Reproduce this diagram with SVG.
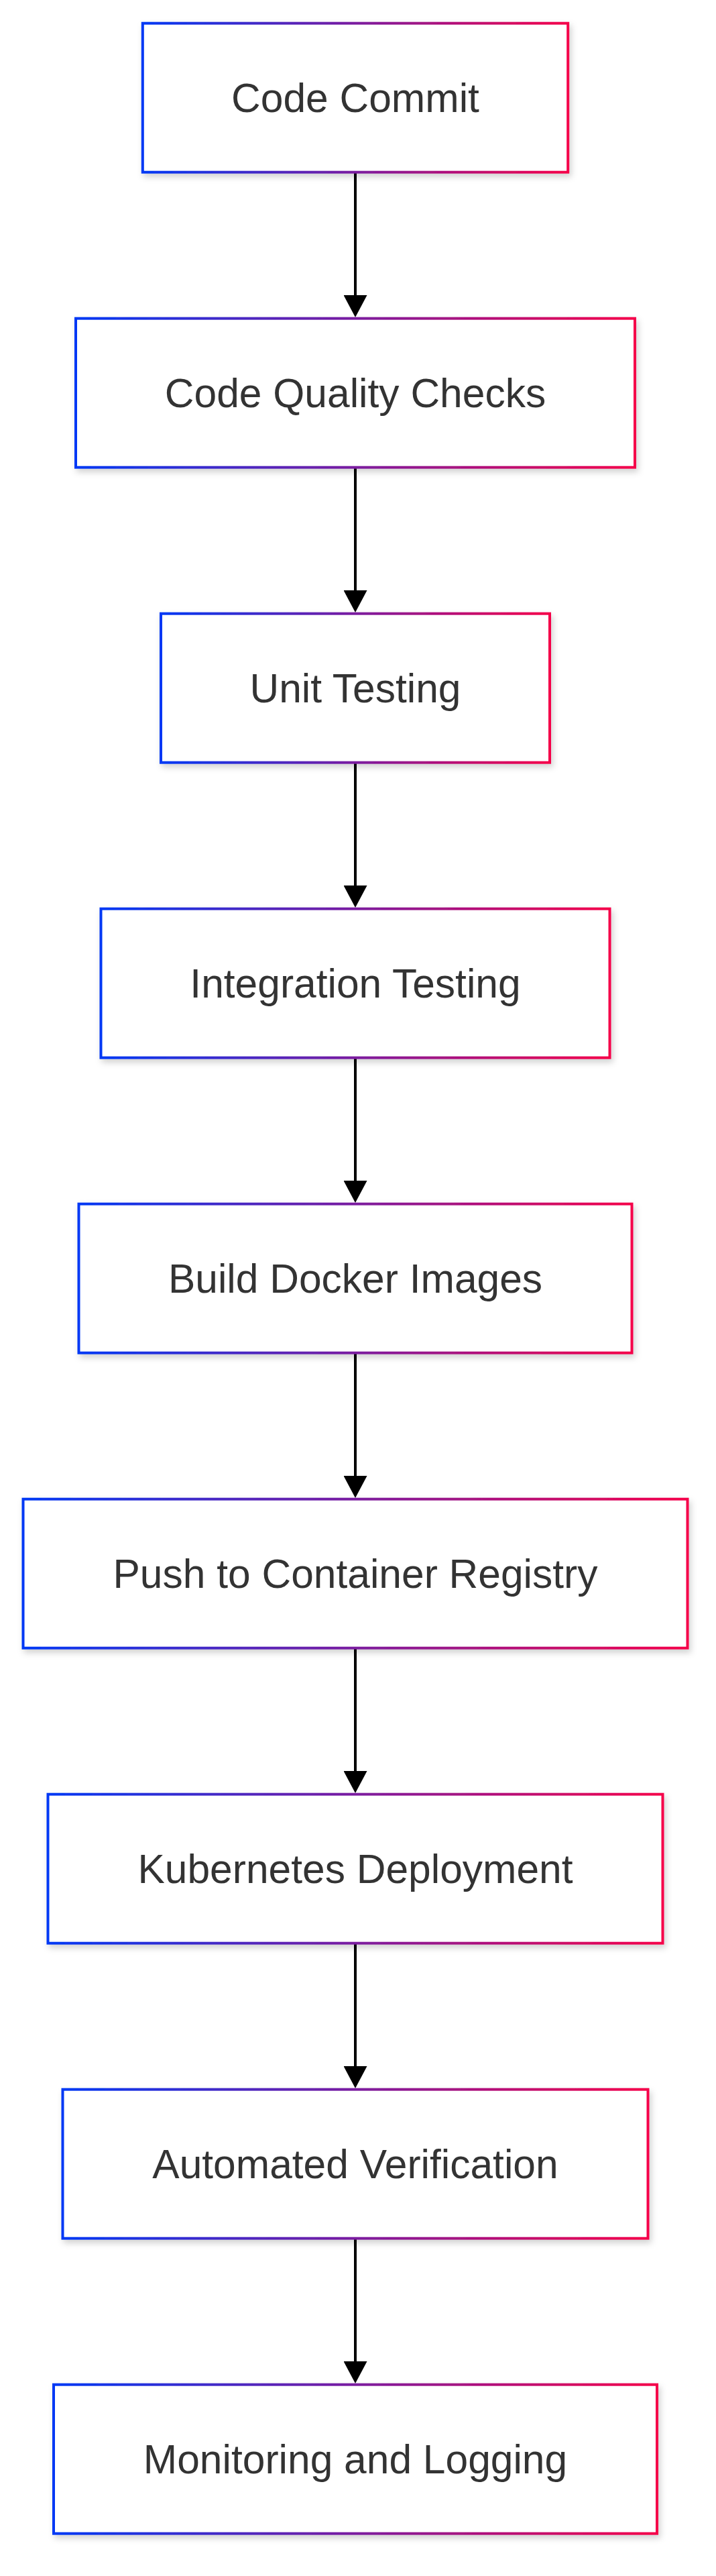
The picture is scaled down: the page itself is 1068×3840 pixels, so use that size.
<svg xmlns="http://www.w3.org/2000/svg" width="1068" height="3840" viewBox="0 0 1068 3840">
<defs>
  <linearGradient id="edgeGrad" x1="0" y1="0" x2="1" y2="0">
    <stop offset="0" stop-color="#0038f5"/>
    <stop offset="1" stop-color="#f5004a"/>
  </linearGradient>
  <filter id="shadow" x="-10%" y="-20%" width="120%" height="150%">
    <feDropShadow dx="3" dy="5" stdDeviation="5" flood-color="#000000" flood-opacity="0.18"/>
  </filter>
  <marker id="arrow" markerUnits="userSpaceOnUse" markerWidth="35" markerHeight="35" viewBox="0 0 33 35" refX="5" refY="17.5" orient="auto">
    <path d="M0,0 L33,17.5 L0,35 Z" fill="#000000"/>
  </marker>
</defs>
<style>
  .box { fill: #ffffff; stroke: url(#edgeGrad); stroke-width: 4; filter: url(#shadow); }
  .label { font-family: "Liberation Sans", Arial, sans-serif; font-size: 60.5px; fill: #333333; text-anchor: middle; }
  .edge { stroke: #000000; stroke-width: 4; fill: none; marker-end: url(#arrow); }
</style>
<rect width="1068" height="3840" fill="#ffffff"/>
<g id="connectors">
  <path class="edge" d="M530,256.7 L530,445"/>
  <path class="edge" d="M530,696.7 L530,885"/>
  <path class="edge" d="M530,1136.7 L530,1325"/>
  <path class="edge" d="M530,1576.7 L530,1765"/>
  <path class="edge" d="M530,2016.7 L530,2205"/>
  <path class="edge" d="M530,2456.7 L530,2645"/>
  <path class="edge" d="M530,2896.7 L530,3085"/>
  <path class="edge" d="M530,3336.7 L530,3525"/>
</g>
<g id="node-code-commit">
  <rect class="box" x="212.8" y="34.7" width="634.4" height="222"/>
  <text class="label" x="530" y="166.7">Code Commit</text>
</g>
<g id="node-code-quality-checks">
  <rect class="box" x="113" y="474.7" width="834" height="222"/>
  <text class="label" x="530" y="606.7">Code Quality Checks</text>
</g>
<g id="node-unit-testing">
  <rect class="box" x="240" y="914.7" width="580" height="222"/>
  <text class="label" x="530" y="1046.7">Unit Testing</text>
</g>
<g id="node-integration-testing">
  <rect class="box" x="150.5" y="1354.7" width="759" height="222"/>
  <text class="label" x="530" y="1486.7">Integration Testing</text>
</g>
<g id="node-build-docker-images">
  <rect class="box" x="117.5" y="1794.7" width="825" height="222"/>
  <text class="label" x="530" y="1926.7">Build Docker Images</text>
</g>
<g id="node-push-registry">
  <rect class="box" x="34.5" y="2234.7" width="991" height="222"/>
  <text class="label" x="530" y="2366.7">Push to Container Registry</text>
</g>
<g id="node-kubernetes-deployment">
  <rect class="box" x="71.5" y="2674.7" width="917" height="222"/>
  <text class="label" x="530" y="2806.7">Kubernetes Deployment</text>
</g>
<g id="node-automated-verification">
  <rect class="box" x="93.5" y="3114.7" width="873" height="222"/>
  <text class="label" x="530" y="3246.7">Automated Verification</text>
</g>
<g id="node-monitoring-logging">
  <rect class="box" x="80" y="3554.7" width="900" height="222"/>
  <text class="label" x="530" y="3686.7">Monitoring and Logging</text>
</g>
</svg>
